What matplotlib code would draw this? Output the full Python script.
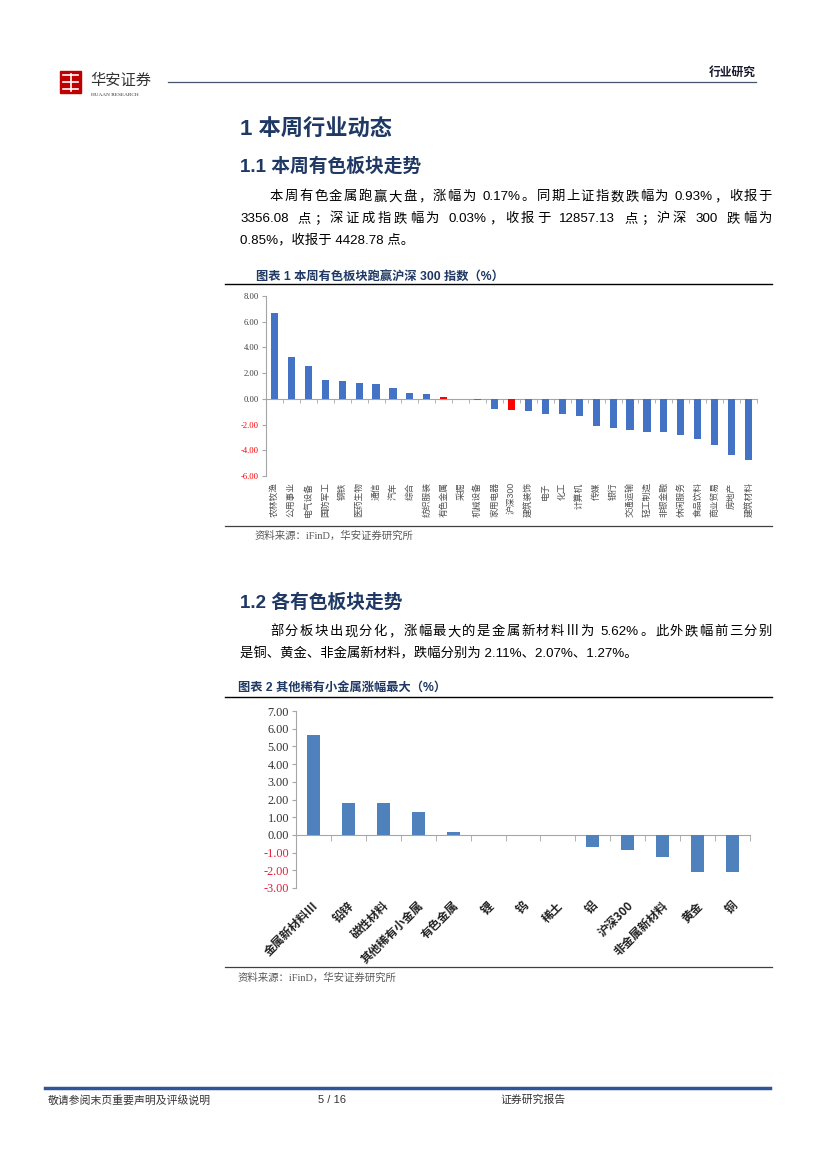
import re
import matplotlib
matplotlib.use('Agg')
import matplotlib.pyplot as plt
from matplotlib.patches import Rectangle
from matplotlib.lines import Line2D
from matplotlib.ticker import FormatStrFormatter, FixedLocator

plt.rcParams['font.family'] = ['Liberation Sans', 'Noto Sans CJK SC']

# ---- data ----
sectors = ['农林牧渔', '公用事业', '电气设备', '国防军工', '钢铁', '医药生物', '通信', '汽车',
           '综合', '纺织服装', '有色金属', '采掘', '机械设备', '家用电器', '沪深300', '建筑装饰',
           '电子', '化工', '计算机', '传媒', '银行', '交通运输', '轻工制造', '非银金融',
           '休闲服务', '食品饮料', '商业贸易', '房地产', '建筑材料']
sector_chg = [6.65, 3.22, 2.55, 1.48, 1.35, 1.25, 1.12, 0.81, 0.49, 0.34, 0.17, 0.02,
              -0.10, -0.77, -0.85, -0.98, -1.16, -1.18, -1.35, -2.13, -2.26, -2.39, -2.58,
              -2.60, -2.81, -3.12, -3.59, -4.35, -4.77]
highlight = ['有色金属', '沪深300']

metals = ['金属新材料Ⅲ', '铅锌', '磁性材料', '其他稀有小金属', '有色金属', '锂', '钨', '稀土',
          '铝', '沪深300', '非金属新材料', '黄金', '铜']
metal_chg = [5.62, 1.79, 1.79, 1.28, 0.17, 0.0, 0.0, 0.0, -0.70, -0.85, -1.27, -2.07, -2.11]

W, H = 827, 1169
NAVY = '#1F3864'
BLUE1 = '#4472C4'
BLUE2 = '#4F81BD'
RED = '#FF0000'
CJK = 'Noto Sans CJK SC'
SANS = ['Liberation Sans', CJK]
SERIF = ['Liberation Serif', CJK]

fig = plt.figure(figsize=(W / 100, H / 100), dpi=100)
renderer = fig.canvas.get_renderer()


def fx(x):
    return x / W


def fy(y):
    return 1 - y / H


def hline(x0, x1, y, color='black', lw=0.8):
    fig.add_artist(Line2D([fx(x0), fx(x1)], [fy(y), fy(y)], color=color, lw=lw))


def put(s, x, y, **kw):
    kw.setdefault('va', 'center')
    return fig.text(fx(x), fy(y), s, **kw)


def justified(s, x0, x1, y, **kw):
    # spread the characters of one line so it fills x0..x1, like Word does
    toks = re.findall(r'[0-9A-Za-z.%/]+| |\S', s)
    widths = []
    for t in toks:
        if t == ' ':
            widths.append(kw.get('fontsize', 10) * 100 / 72 * 0.3)
            continue
        tmp = fig.text(0, 0, t, **kw)
        widths.append(tmp.get_window_extent(renderer).width)
        tmp.remove()
    gap = (x1 - x0 - sum(widths)) / (len(toks) - 1)
    x = x0
    for t, w in zip(toks, widths):
        if t != ' ':
            put(t, x, y, **kw)
        x += w + gap


# ---- header ----
fig.add_artist(Rectangle((fx(60), fy(93)), 21 / W, 22 / H, color='#C00000', transform=fig.transFigure))
for yy in (75, 82, 89):
    hline(63, 78, yy, color='white', lw=1.2)
fig.add_artist(Line2D([fx(70.5), fx(70.5)], [fy(74), fy(91)], color='white', lw=1.2))
put('华安证券', 90, 80, fontsize=11, color='#333333', family=CJK)
put('HUAAN RESEARCH', 91, 95, fontsize=3.8, color='#333333', family=SERIF)
hline(168, 756, 82, color='#44546A', lw=0.9)
put('行业研究', 756, 73, fontsize=8.5, weight='bold', color='#1a1a2e', ha='right', family=SANS)

# ---- section 1 ----
put('1 本周行业动态', 240, 130, fontsize=16, weight='bold', color=NAVY, family=SANS)
put('1.1 本周有色板块走势', 240, 166, fontsize=13.5, weight='bold', color=NAVY, family=SANS)
body = dict(fontsize=9.6, color='black', family=SANS)
justified('本周有色金属跑赢大盘，涨幅为 0.17%。同期上证指数跌幅为 0.93%，收报于', 270, 772, 197, **body)
justified('3356.08 点；深证成指跌幅为 0.03%，收报于 12857.13 点；沪深 300 跌幅为', 240, 772, 219, **body)
put('0.85%，收报于 4428.78 点。', 240, 240.5, **body)

put('图表 1 本周有色板块跑赢沪深 300 指数（%）', 256, 277, fontsize=8.8, weight='bold', color=NAVY, family=SANS)
hline(225, 772, 284, lw=1.0)

ax1 = fig.add_axes([fx(266), fy(476), (757 - 266) / W, (476 - 296) / H])
xs = list(range(len(sectors)))
colors1 = [RED if s in highlight else BLUE1 for s in sectors]
ax1.bar(xs, sector_chg, width=0.42, color=colors1, zorder=3)
ax1.set_xlim(-0.5, len(sectors) - 0.5)
ax1.set_ylim(-6, 8)
ax1.set_yticks(range(-6, 9, 2))
ax1.yaxis.set_major_formatter(FormatStrFormatter('%.2f'))
for s in ('top', 'right'):
    ax1.spines[s].set_visible(False)
ax1.spines['left'].set_color('#A6A6A6')
ax1.spines['bottom'].set_position(('data', 0))
ax1.spines['bottom'].set_color('#A6A6A6')
ax1.set_xticks([])
ax1.xaxis.set_minor_locator(FixedLocator([i + 0.5 for i in xs]))
ax1.tick_params(axis='x', which='minor', length=3, color='#A6A6A6', direction='out')
ax1.tick_params(axis='y', length=3, color='#A6A6A6', labelsize=6.2, pad=2)
for lab, v in zip(ax1.get_yticklabels(), ax1.get_yticks()):
    lab.set_family(SERIF)
    lab.set_color(RED if v < 0 else '#404040')
for i, s in enumerate(sectors):
    ax1.text(i, -0.035, s, transform=ax1.get_xaxis_transform(), rotation=90, ha='center',
             va='top', fontsize=6.3, color='#505050', family=SANS)

hline(225, 772, 526, color='#404040', lw=0.9)
put('资料来源：iFinD，华安证券研究所', 255, 536, fontsize=7.5, color='#595959', family=SERIF)

# ---- section 2 ----
put('1.2 各有色板块走势', 240, 602, fontsize=13.5, weight='bold', color=NAVY, family=SANS)
justified('部分板块出现分化，涨幅最大的是金属新材料Ⅲ为 5.62%。此外跌幅前三分别', 270, 772, 632, **body)
put('是铜、黄金、非金属新材料，跌幅分别为 2.11%、2.07%、1.27%。', 240, 654, **body)

put('图表 2 其他稀有小金属涨幅最大（%）', 238, 688, fontsize=8.8, weight='bold', color=NAVY, family=SANS)
hline(225, 772, 697, lw=1.0)

ax2 = fig.add_axes([fx(296), fy(888), (750 - 296) / W, (888 - 711) / H])
xs2 = list(range(len(metals)))
ax2.bar(xs2, metal_chg, width=0.38, color=BLUE2, zorder=3)
ax2.set_xlim(-0.5, len(metals) - 0.5)
ax2.set_ylim(-3, 7)
ax2.set_yticks(range(-3, 8))
ax2.yaxis.set_major_formatter(FormatStrFormatter('%.2f'))
for s in ('top', 'right'):
    ax2.spines[s].set_visible(False)
ax2.spines['left'].set_color('#A6A6A6')
ax2.spines['bottom'].set_position(('data', 0))
ax2.spines['bottom'].set_color('#A6A6A6')
ax2.set_xticks([])
ax2.xaxis.set_minor_locator(FixedLocator([i + 0.5 for i in xs2]))
ax2.tick_params(axis='x', which='minor', length=4, color='#A6A6A6', direction='out')
ax2.tick_params(axis='y', length=3, color='#A6A6A6', labelsize=8.8, pad=2)
for lab, v in zip(ax2.get_yticklabels(), ax2.get_yticks()):
    lab.set_family(SERIF)
    lab.set_color('#E0203C' if v < 0 else '#333333')
for i, s in enumerate(metals):
    ax2.text(i + 0.1, -0.09, s, transform=ax2.get_xaxis_transform(), rotation=45, ha='right',
             va='center', rotation_mode='anchor', fontsize=8.5, weight='bold', color='#222222', family=CJK)

hline(225, 772, 967, color='#404040', lw=0.9)
put('资料来源：iFinD，华安证券研究所', 238, 978, fontsize=7.5, color='#595959', family=SERIF)

# ---- footer ----
hline(45, 770, 1088, color='#2F5597', lw=2.5)
put('敬请参阅末页重要声明及评级说明', 48, 1100, fontsize=7.8, color='#333333', family=SANS)
put('5 / 16', 318, 1100, fontsize=8, color='#333333', family=SANS)
put('证券研究报告', 500, 1100, fontsize=7.8, color='#333333', family=SANS)

fig.savefig('out.png', dpi=100)
